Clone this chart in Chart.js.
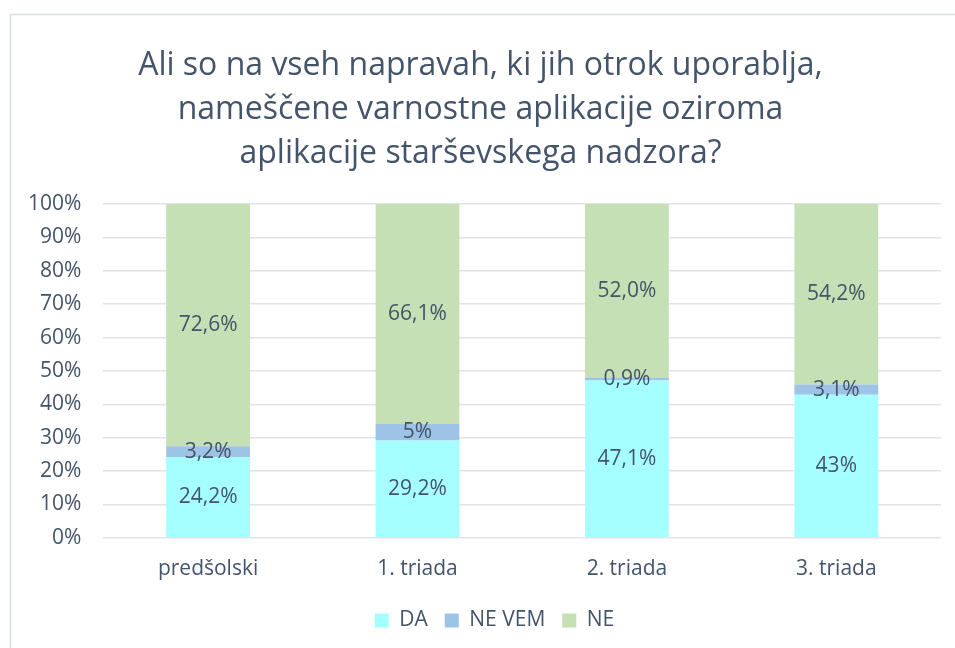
<!DOCTYPE html>
<html>
<head>
<meta charset="utf-8">
<script src="https://cdn.jsdelivr.net/npm/chart.js@4/dist/chart.umd.min.js"></script>
<style>
  html, body { margin: 0; padding: 0; background: #fff; }
  #wrap { width: 955px; height: 648px; position: relative; }
</style>
</head>
<body>
<div id="wrap"><canvas id="chart"></canvas></div>
<script>
// Chart data
const categories = ['predšolski', '1. triada', '2. triada', '3. triada'];
const daValues = [24.2, 29.2, 47.1, 43];
const neVemValues = [3.2, 5, 0.9, 3.1];
const neValues = [72.6, 66.1, 52.0, 54.2];
const seriesNames = ['DA', 'NE VEM', 'NE'];
const titleLines = [
    'Ali so na vseh napravah, ki jih otrok uporablja,',
    'nameščene varnostne aplikacije oziroma',
    'aplikacije starševskega nadzora?'
];

const textColor = '#44546A';
const fontFamily = '"Open Sans", sans-serif';

// 100% stacked: normalise each category to its total
const totals = categories.map((c, i) => daValues[i] + neVemValues[i] + neValues[i]);
const share = arr => arr.map((v, i) => v / totals[i] * 100);

// label like Excel: comma decimals
const fmt = v => String(v).replace('.', ',') + '%';
const fmtFixed = v => v.toFixed(1).replace('.', ',') + '%';
const rawLabels = [
    daValues.map(fmt),
    neVemValues.map(fmt),
    neValues.map(fmtFixed)
];

// frame like the Excel chart area (only top / left edges visible)
const framePlugin = {
    id: 'frame',
    beforeDraw(chart) {
        const ctx = chart.ctx;
        ctx.save();
        ctx.strokeStyle = '#D9DEE5';
        ctx.lineWidth = 1.5;
        ctx.beginPath();
        ctx.moveTo(10.5, 700);
        ctx.lineTo(10.5, 14.5);
        ctx.lineTo(1000, 14.5);
        ctx.stroke();
        ctx.restore();
    }
};

// nudge title and legend to the right, the Excel chart is centred inside its frame
const centerPlugin = {
    id: 'nudge',
    afterLayout(chart) {
        if (chart.titleBlock) {
            chart.titleBlock.left += 7;
            chart.titleBlock.right += 7;
        }
        if (chart.legend) {
            chart.legend.left += 21;
            chart.legend.right += 21;
        }
    }
};

// value labels centred in each segment
const labelPlugin = {
    id: 'segmentLabels',
    afterDatasetsDraw(chart) {
        const ctx = chart.ctx;
        ctx.save();
        ctx.font = '21px ' + fontFamily;
        ctx.fillStyle = textColor;
        ctx.textAlign = 'center';
        ctx.textBaseline = 'middle';
        chart.data.datasets.forEach((ds, di) => {
            chart.getDatasetMeta(di).data.forEach((bar, i) => {
                const y = (bar.y + bar.base) / 2;
                ctx.fillText(rawLabels[di][i], bar.x, y);
            });
        });
        ctx.restore();
    }
};

new Chart(document.getElementById('chart'), {
    type: 'bar',
    data: {
        labels: categories,
        datasets: [
            { label: seriesNames[0], data: share(daValues), backgroundColor: '#A6FFFF' },
            { label: seriesNames[1], data: share(neVemValues), backgroundColor: '#9DC3E6' },
            { label: seriesNames[2], data: share(neValues), backgroundColor: '#C5E0B4' }
        ]
    },
    options: {
        responsive: true,
        maintainAspectRatio: false,
        animation: false,
        layout: { padding: { left: 6, right: 14, top: 44, bottom: 7 } },
        datasets: {
            bar: { categoryPercentage: 0.8, barPercentage: 0.5 }
        },
        scales: {
            x: {
                stacked: true,
                grid: { display: false },
                border: { display: false },
                ticks: { color: textColor, font: { family: fontFamily, size: 21 }, padding: 11 }
            },
            y: {
                stacked: true,
                min: 0,
                max: 100,
                border: { display: false },
                grid: { color: '#E0E3E8', lineWidth: 1.5, drawTicks: false },
                ticks: {
                    stepSize: 10,
                    color: textColor,
                    padding: 22,
                    font: { family: fontFamily, size: 21 },
                    callback: v => v + '%'
                }
            }
        },
        plugins: {
            title: {
                display: true,
                text: titleLines,
                color: textColor,
                font: { family: fontFamily, size: 32, weight: 'normal', lineHeight: 1.375 },
                padding: { top: 0, bottom: 28 }
            },
            legend: {
                position: 'bottom',
                labels: {
                    color: textColor,
                    font: { family: fontFamily, size: 21 },
                    boxWidth: 14,
                    boxHeight: 14,
                    padding: 17
                }
            },
            tooltip: { enabled: false }
        }
    },
    plugins: [framePlugin, centerPlugin, labelPlugin]
});
</script>
</body>
</html>
